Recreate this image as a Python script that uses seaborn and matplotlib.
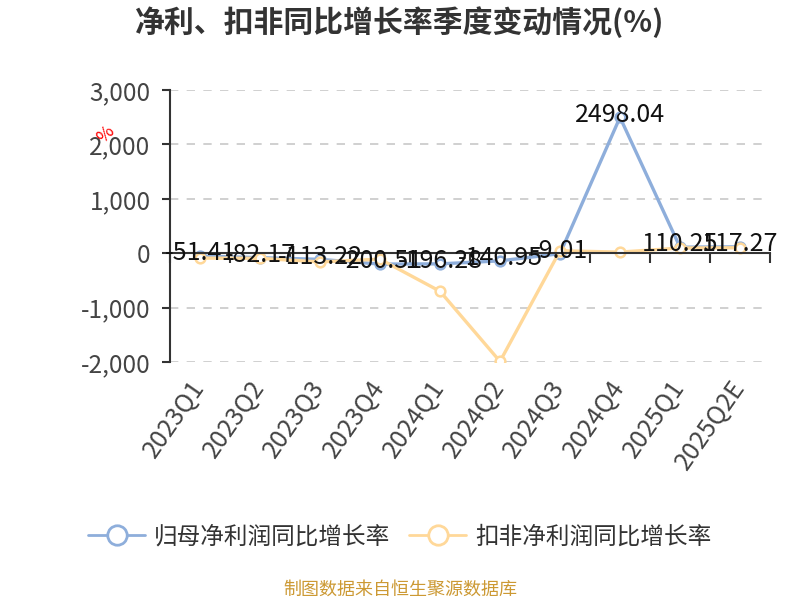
import numpy as np
import pandas as pd
import matplotlib
matplotlib.use("Agg")
import matplotlib.pyplot as plt
from matplotlib.lines import Line2D
from matplotlib.ticker import FuncFormatter
import seaborn as sns

quarters = ["2023Q1", "2023Q2", "2023Q3", "2023Q4", "2024Q1",
            "2024Q2", "2024Q3", "2024Q4", "2025Q1", "2025Q2E"]
net_profit_yoy = [-51.41, -82.17, -113.22, -200.51, -196.28,
                  -140.95, -9.01, 2498.04, 110.25, 117.27]
deducted_yoy = [-90, -95, -160, -110, -700,
                -1990, 45, 20, 95, 100]
series_names = ["归母净利润同比增长率", "扣非净利润同比增长率"]
colors = ["#8EAEDB", "#FFD899"]
yticks = [-2000, -1000, 0, 1000, 2000, 3000]

sns.set_theme(style="white")
plt.rcParams["font.family"] = ["Noto Sans CJK SC", "DejaVu Sans"]
plt.rcParams["axes.unicode_minus"] = False

df = pd.DataFrame({
    "quarter": quarters * 2,
    "pos": list(range(len(quarters))) * 2,
    "value": net_profit_yoy + deducted_yoy,
    "series": [series_names[0]] * len(quarters) + [series_names[1]] * len(quarters),
})

fig = plt.figure(figsize=(8, 6), dpi=100)
ax = fig.add_axes([0.2125, 0.3967, 0.75, 0.4533])

for name, col, z in zip(series_names, colors, [3, 4]):
    sub = df[df["series"] == name]
    sns.lineplot(data=sub, x="pos", y="value", ax=ax, color=col, linewidth=2.4,
                 marker="o", markersize=7, markerfacecolor="white",
                 markeredgecolor=col, markeredgewidth=1.8, sort=False,
                 legend=False, zorder=z)

# data labels for net profit series
for xi, v in zip(df["pos"][:len(quarters)], net_profit_yoy):
    ax.annotate(f"{v:.2f}", (xi, v), xytext=(0, 2), textcoords="offset points",
                ha="center", va="center", fontsize=18, color="#111111", zorder=6)

ax.set_xlim(-0.5, len(quarters) - 0.5)
ax.set_ylim(yticks[0], yticks[-1])
ax.set_yticks(yticks)
ax.yaxis.set_major_formatter(FuncFormatter(lambda v, p: f"{int(v):,}"))
ax.tick_params(axis="y", left=True, length=6, width=1.5, color="#333333",
               labelsize=17.5, labelcolor="#444444", pad=8)
ax.grid(axis="y", linestyle=(0, (5, 5)), color="#c8c8c8", linewidth=1.2)
ax.grid(axis="x", visible=False)

for s in ["top", "right"]:
    ax.spines[s].set_visible(False)
ax.spines["left"].set_color("#333333")
ax.spines["left"].set_linewidth(1.5)
ax.spines["bottom"].set_position(("data", 0))
ax.spines["bottom"].set_color("#333333")
ax.spines["bottom"].set_linewidth(1.5)
ax.spines["bottom"].set_zorder(5)

ax.set_xticks(range(len(quarters)))
ax.set_xticklabels([])
ax.tick_params(axis="x", which="major", length=0, bottom=False)
ax.set_xticks(np.arange(-0.5, len(quarters), 1.0), minor=True)
ax.tick_params(axis="x", which="minor", bottom=True, length=7, width=1.5,
               color="#333333", direction="out")
ax.set_xlabel("")
ax.set_ylabel("")

sec = ax.secondary_xaxis("bottom")
sec.set_xticks(range(len(quarters)))
sec.set_xticklabels(quarters, rotation=55, ha="right", va="center",
                    rotation_mode="anchor", fontsize=18, color="#444444")
sec.tick_params(length=0, pad=15)
sec.spines["bottom"].set_visible(False)

ax.text(-0.108, 0.835, "%", transform=ax.transAxes, color="red", fontsize=13,
        rotation=45, ha="center", va="center")

fig.text(0.5, 0.963, "净利、扣非同比增长率季度变动情况(%)", ha="center", va="center",
         fontsize=21.5, fontweight="bold", color="#333333")

handles = [Line2D([0], [0], color=c, linewidth=2, marker="o", markersize=14,
                  markerfacecolor="white", markeredgecolor=c, markeredgewidth=2)
           for c in colors]
fig.legend(handles, series_names, loc="center", bbox_to_anchor=(0.5, 0.105),
           ncol=2, frameon=False, fontsize=17, handlelength=2.4,
           columnspacing=0.8, handletextpad=0.4, labelcolor="#333333")

fig.text(0.5, 0.017, "制图数据来自恒生聚源数据库", ha="center", va="center",
         fontsize=13, color="#CC9933")

fig.savefig("out.png", dpi=100)
